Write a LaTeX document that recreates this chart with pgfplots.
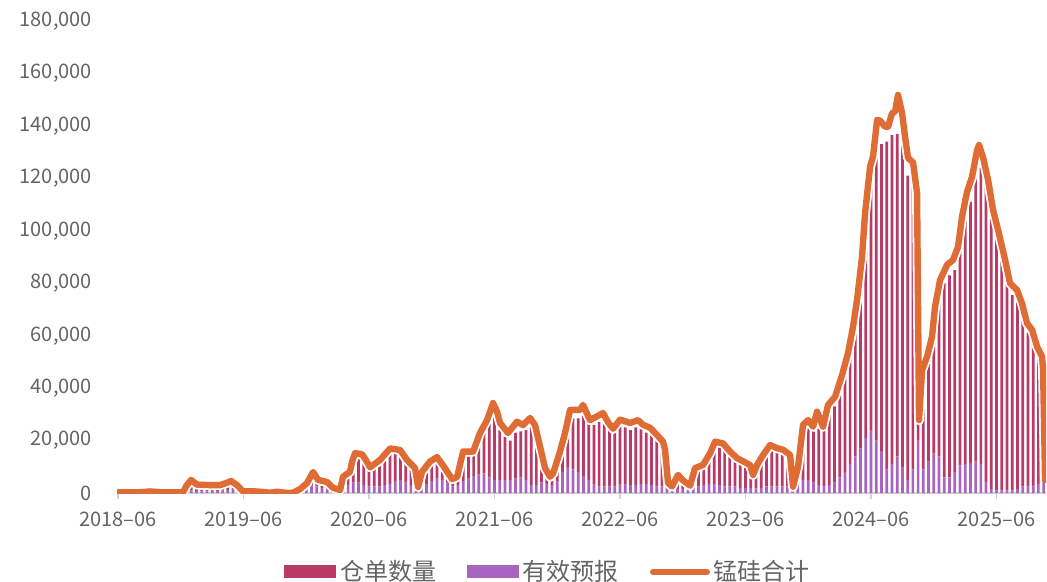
\documentclass[border=0pt]{standalone}
\usepackage{fontspec}
\setmainfont{Noto Sans CJK SC}
\usepackage{pgfplots}
\usepackage{pgfplotstable}
\pgfplotsset{compat=1.18}
\usetikzlibrary{calc}

\definecolor{cangdan}{RGB}{185,58,100}
\definecolor{yubao}{RGB}{168,100,190}
\definecolor{heji}{RGB}{224,108,53}
\definecolor{txt}{RGB}{100,100,100}
\definecolor{axgray}{RGB}{210,210,210}

% m = months since 2018-06; values in tonnes
\pgfplotstableread{
m     yb     wr
6.5   800    1200
7     1000   2500
7.5   800    1700
8     600    1800
8.5   600    1700
9     700    1600
9.5   800    1500
10    1000   1700
10.5  1200   2100
11    1500   1500
11.5  800    700
17.5  600    400
18    1500   1000
18.5  3000   2500
19    2500   2000
19.5  2000   1800
20    1800   1500
20.5  800    700
21    500    300
21.5  2500   2000
22    3000   3000
22.5  4000   7500
23    4000   9000
23.5  3000   9000
24    2500   6500
24.5  2500   7000
25    2500   8300
25.5  3000   10000
26    3500   11500
26.5  4500   10300
27    5000   9500
27.5  4000   7500
28    3000   6500
28.5  2000   3000
29    2500   3000
29.5  3500   5000
30    4500   6000
30.5  5500   6500
31    5000   4500
31.5  4000   2500
32    2500   1500
32.5  3000   2500
33    4500   9000
33.5  5500   8500
34    6500   8000
34.5  7000   12500
35    7500   16000
35.5  6000   21500
36    5000   26000
36.5  5000   19000
37    5000   16500
37.5  5000   15000
38    5500   17500
38.5  6000   17500
39    5000   19000
39.5  3000   22500
40    3000   19500
40.5  4000   9000
41    3500   3000
41.5  3000   2500
42    4500   6000
42.5  8000   9000
43    10000  14500
43.5  9000   19500
44    8000   20500
44.5  6500   23000
45    5000   21500
45.5  3500   22500
46    2500   24500
46.5  2500   25000
47    2500   22000
47.5  2500   20500
48    3500   22000
48.5  3500   21500
49    3000   21000
49.5  3000   22000
50    3500   21000
50.5  3500   19500
51    3000   19000
51.5  2500   17500
52    2500   15500
52.5  2000   4000
53    800    700
53.5  1500   3000
54    1500   2000
54.5  1000   1000
55    2000   3500
55.5  2500   6000
56    3000   6500
56.5  3500   9000
57    3500   13000
57.5  3000   14500
58    2500   14000
58.5  2500   11500
59    2500   10000
59.5  2000   9000
60    2000   8200
60.5  2000   6500
61    1800   6200
61.5  2000   9000
62    2500   11500
62.5  2500   13500
63    2500   13000
63.5  2500   12500
64    2500   11000
64.5  1500   2500
65    3000   5000
65.5  5000   18000
66    5000   20000
66.5  4000   19500
67    3000   24000
67.5  2500   21500
68    3000   28000
68.5  4000   29000
69    6000   31500
69.5  8000   37000
70    11000  42000
70.5  14000  49000
71    17000  60000
71.5  21000  78000
72    24000  97000
72.5  20000  110000
73    16000  117000
73.5  9000   125000
74    11000  125500
74.5  14000  123000
75    10000  124000
75.5  5000   116000
76    9000   108000
76.5  20000  7000
77    9000   36000
77.5  12000  38000
78    15000  46000
78.5  14000  60000
79    6000   74000
79.5  6000   77000
80    8000   77000
80.5  10500  82500
81    11000  93000
81.5  11500  99500
82    12000  108000
82.5  11000  113000
83    4000   113000
83.5  1500   104500
84    1000   96000
84.5  1000   88000
85    1000   80000
85.5  1000   74500
86    1500   72000
86.5  2500   65500
87    2500   58500
87.5  3000   54500
88    3500   48500
88.5  4500   39500
}\bars

\pgfplotstableread{
m      tot
0      300
2.10   300
3.06   600
4.02   300
6.22   300
6.50   2500
6.98   5000
7.55   3200
8.80   3000
9.75   3000
10.33  3800
10.81  4600
11.38  3000
11.95  600
13.10  600
13.87  400
14.53  100
15.20  500
15.97  100
16.73  100
17.40  1500
18.07  3800
18.65  8000
19.12  5000
19.98  4200
20.56  2000
21.23  1100
21.51  6200
22.18  8100
22.38  12000
22.66  15200
23.33  14800
23.71  12500
24.10  9800
25.05  12600
26.01  17000
26.97  16400
27.63  12600
28.40  9500
28.69  2300
29.07  8100
29.83  12000
30.50  13700
31.08  10500
31.94  5300
32.42  6100
32.99  15800
33.95  15800
34.61  22900
35.28  27800
35.86  34300
36.24  31000
36.53  26700
37.29  22900
38.15  27200
38.73  25900
39.40  28600
39.87  25900
40.35  17700
40.83  9500
41.31  6200
41.60  7500
42.26  15800
42.74  22900
43.22  31700
44.18  31700
44.46  33600
45.13  27800
46.38  30500
46.85  27000
47.33  24500
48.00  28000
48.96  26700
49.72  27800
50.20  26000
50.87  24900
51.54  22100
52.11  19600
52.30  16500
52.59  3800
52.97  2500
53.55  6900
54.03  4800
54.70  2800
55.17  9500
55.94  10700
56.61  15200
57.09  19600
57.85  18900
58.52  15800
59.19  13300
59.76  12100
60.43  10700
60.72  6900
61.10  10700
61.68  14500
62.35  18300
63.01  17100
63.59  16500
64.26  14500
64.54  2400
65.02  10000
65.50  26000
65.98  27800
66.46  25300
66.84  31000
67.41  25300
67.89  33600
68.56  36700
69.23  45000
69.80  53400
70.28  63400
70.66  73600
71.14  90100
71.43  106800
71.91  124500
72.19  128300
72.58  142300
72.86  142000
73.34  139700
73.63  139700
74.01  144800
74.30  145500
74.58  151800
74.97  144800
75.25  135900
75.54  127800
76.02  126000
76.40  114400
76.59  27800
76.88  46900
77.36  52000
77.83  59600
78.12  71100
78.60  81200
79.27  87000
79.84  88900
80.32  93900
80.70  105400
81.18  114900
81.66  120600
82.14  130800
82.33  132700
82.71  128000
83.19  119400
83.67  107900
84.15  100300
84.82  88900
85.29  80000
85.96  77400
86.44  72300
86.92  64700
87.40  62200
87.88  55800
88.35  52000
88.45  46900
88.64  5000
}\total

\pgfplotsset{
  base/.style={
    scale only axis, width=464.5bp, height=236bp,
    xmin=-0.1, xmax=88.73, ymin=0, ymax=180000,
  },
  barleg/.style={legend image code/.code={\fill[##1] (0bp,-3.3bp) rectangle (26bp,3.3bp);}},
  lineleg/.style={legend image code/.code={\draw[##1] (0bp,0bp) -- (27bp,0bp);}},
}

\begin{document}
\begin{tikzpicture}
\begin{axis}[base,
    ybar stacked, bar width=0.26,
    axis x line*=bottom, axis y line*=left,
    y axis line style={draw=none},
    x axis line style={color=axgray, line width=0.8bp},
    xtick style={color=axgray, line width=0.8bp},
    ytick style={draw=none},
    major tick length=3bp, tick align=outside,
    xtick={0,12,24,36,48,60,72,84},
    xticklabels={2018--06,2019--06,2020--06,2021--06,2022--06,2023--06,2024--06,2025--06},
    ytick={0,20000,...,180000},
    scaled y ticks=false,
    /pgf/number format/.cd, fixed, precision=0, 1000 sep={,}, assume math mode=true, /pgfplots/.cd,
    tick label style={font=\fontsize{10bp}{12bp}\selectfont, text=txt},
    yticklabel style={xshift=-6bp},
    xticklabel style={yshift=-3bp},
]
\addplot[fill=yubao, draw=none] table[x=m, y=yb] {\bars};
\addplot[fill=cangdan, draw=none] table[x=m, y=wr] {\bars};
\end{axis}

\begin{axis}[base, hide axis,
    legend style={at={(0.465,-0.167)}, anchor=center, draw=none, fill=none,
      legend columns=3, font=\fontsize{12bp}{14bp}\selectfont, text=txt,
      /tikz/every even column/.append style={column sep=13.5bp}},
]
\addlegendimage{barleg, fill=cangdan, draw=none}
\addlegendentry{仓单数量}
\addlegendimage{barleg, fill=yubao, draw=none}
\addlegendentry{有效预报}
\addlegendimage{lineleg, heji, line width=3bp, line cap=round}
\addlegendentry{锰硅合计}
\addplot[white, line width=5bp, line join=round, forget plot] table[x=m, y=tot] {\total};
\addplot[heji, line width=3.2bp, line join=round, line cap=round, forget plot] table[x=m, y=tot] {\total};
\end{axis}

\pgfresetboundingbox
\useasboundingbox ($(current axis.south west)+(-58.5bp,-44.5bp)$) rectangle ($(current axis.north east)+(0.5bp,10.5bp)$);
\end{tikzpicture}
\end{document}
